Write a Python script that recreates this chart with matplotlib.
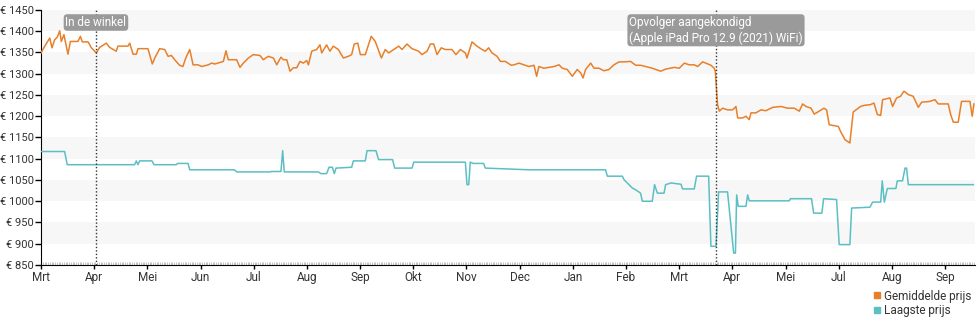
import matplotlib.pyplot as plt
import numpy as np
from matplotlib.lines import Line2D
from matplotlib.transforms import blended_transform_factory

# Average price (days since start, euro)
avg_days = [0, 2, 5, 6.3, 7.8, 9.3, 10.7, 11.6, 13.1, 15.4,
            16.8, 21.1, 22.5, 23.6, 26.9, 28.8, 31.6, 33.5, 37.3, 39.2,
            43, 44, 49.7, 50.7, 52.6, 54.5, 55.4, 61.1, 63.6, 65,
            67.8, 70.7, 72.6, 74.5, 76.4, 79.2, 81.1, 82.7, 85, 86.9, 89.7,
            91.8, 95.6, 97.5, 99.4, 104.2, 105.7, 107, 111.8, 113.7, 115.6,
            118.5, 121.3, 125.1, 127, 129.9, 132.8, 134.7, 137.1, 138.5, 140.4,
            142.3, 144.2, 146.1, 148, 149.9, 151.8, 152.8, 154.7, 157.5, 159.4,
            160.4, 163.2, 165.1, 167, 169.9, 172.8, 175.6, 177.5, 179,
            181, 182.5, 185.3, 188.7, 191, 194.5, 196.7, 198.7, 201.5, 204.4,
            206.3, 209.1, 212, 215.8, 217.7, 220.6, 222.5, 224.4, 226.3, 228.7,
            231, 234.8, 237.1, 239.6, 242.5, 243.4, 246.3, 249.1, 252, 253.9,
            255.8, 257.7, 260.6, 262.5, 265.3, 268.7,
            270.3, 273.1, 278.8, 281.7, 283.2, 284.5, 287.4, 290.3, 293.1, 296,
            297.9, 300.7, 303.6, 306.4, 308.4, 309.7, 311.2, 314.1, 316, 318.8,
            321.7, 324.5, 327.4, 330.3, 333.1, 336.9, 339.8, 342.6, 345.5, 349.3,
            354.1, 357,
            361.9, 364.7, 367.6, 370.4, 373.3, 375.2, 378.1, 382.8, 384.7, 385.3,
            386.6, 387.6, 389.5, 392.3, 395.2, 397.1, 398.1, 400.9, 402.8, 404.7,
            405.7, 408.5, 411.4, 414.2, 418.1, 422.8, 426.6, 430.4, 433.3, 435.2,
            437.1, 440, 441.9, 444.7, 447.4, 448.9,
            450.4, 455.6, 456.9, 459.4, 462.2, 464.1, 468.3, 470.8, 473.7, 476,
            477.9, 479.8, 480.9, 485.1, 486.6, 488.9, 491.2, 493.1, 495.6, 498.4,
            501.3, 503.2, 508, 510.8, 512.7, 518.4, 519.8, 521.3, 524.1, 526,
            530.8, 532.1, 533.1]
avg_prices = [1349, 1364, 1384, 1361, 1380, 1386, 1401, 1376, 1392, 1346,
              1376, 1376, 1388, 1375, 1375, 1361, 1349, 1362, 1372, 1362,
              1353, 1365, 1365, 1372, 1346, 1346, 1359, 1359, 1323, 1337,
              1359, 1357, 1341, 1343, 1333, 1320, 1317, 1337, 1357, 1321, 1321,
              1317, 1321, 1325, 1323, 1329, 1354, 1333, 1333, 1315, 1325,
              1337, 1345, 1343, 1333, 1341, 1337, 1321, 1339, 1333, 1333,
              1306, 1314, 1314, 1329, 1325, 1331, 1321, 1353, 1357, 1368,
              1349, 1368, 1353, 1365, 1357, 1337, 1341, 1345, 1370,
              1372, 1345, 1345, 1388, 1376, 1337, 1357, 1349, 1357, 1365,
              1357, 1370, 1359, 1353, 1345, 1353, 1370, 1370, 1345, 1361,
              1357, 1357, 1345, 1357, 1349, 1337, 1375, 1365, 1357, 1353,
              1361, 1349, 1341, 1329, 1329, 1320,
              1321, 1325, 1317, 1320, 1294, 1317, 1313, 1315, 1317, 1321,
              1313, 1310, 1294, 1310, 1302, 1290, 1310, 1325, 1313, 1313,
              1307, 1310, 1321, 1328, 1328, 1329, 1320, 1320, 1317, 1313,
              1306, 1311,
              1315, 1313, 1325, 1321, 1321, 1317, 1328, 1320, 1313, 1306,
              1227, 1212, 1219, 1215, 1215, 1223, 1196, 1196, 1200, 1192,
              1208, 1208, 1215, 1213, 1221, 1223, 1219, 1219, 1212, 1229,
              1223, 1219, 1205, 1212, 1219, 1215,
              1180, 1176, 1164, 1145, 1137, 1210, 1223, 1226, 1227, 1231,
              1204, 1202, 1239, 1243, 1223, 1243, 1247, 1259, 1251, 1247,
              1221, 1233, 1235, 1239, 1229, 1229, 1204, 1186, 1186, 1235,
              1235, 1200, 1229]

# Lowest price
low_days = [0, 13.5, 15, 53.5, 54.5, 55.4, 56.4, 63.4, 64.6, 77.3, 78, 84, 85,
            110.5, 111.8, 130.9, 131.5, 137.1, 138.1, 139, 158.5, 160, 163.2, 164.6, 166.5, 167.6, 168.6, 177.5, 178.5,
            185.3, 186.3, 191.4, 192.9, 200.9, 202.1, 212, 213, 242.5, 243.4, 244.4, 245.3, 247, 252.9, 253.9,
            278.8, 322.6, 323.6, 332.2, 333.1, 337.9, 339.8, 342.6, 343.6, 349.3, 350.6, 352.2, 356, 356.9,
            360, 365.7, 366.6, 373.3, 374.6, 381.5, 382.8, 385.7, 387.2, 392.3, 395.8, 396.8, 397.5, 398.4,
            402.8, 403.8, 404.7, 427.6, 428.2, 440.3, 441.5, 446.2, 447.2,
            454.6, 456.1, 462.2, 463.2, 473.7, 475.2, 479.8, 480.7, 481.9, 483.6, 488.5, 489.3, 492.3,
            493.7, 494.6, 495.6, 532.7]
low_prices = [1117, 1117, 1086, 1086, 1095, 1086, 1095, 1095, 1086, 1086, 1089, 1089, 1074,
              1074, 1069, 1069, 1070, 1070, 1119, 1069, 1069, 1065, 1065, 1080, 1080, 1065, 1078, 1080, 1095,
              1095, 1119, 1119, 1098, 1098, 1078, 1078, 1092, 1092, 1039, 1039, 1092, 1089, 1089, 1078,
              1074, 1074, 1059, 1059, 1051, 1031, 1027, 1019, 1000, 1000, 1039, 1019, 1019, 1039,
              1043, 1040, 1029, 1029, 1059, 1059, 894, 894, 1022, 1022, 878, 878, 1015, 988,
              988, 1015, 1001, 1001, 1006, 1006, 972, 972, 1006,
              1004, 898, 898, 984, 986, 998, 998, 1048, 998, 1030, 1030, 1048, 1048,
              1078, 1078, 1039, 1039]

month_labels = ["Mrt", "Apr", "Mei", "Jun", "Jul", "Aug", "Sep", "Okt", "Nov",
                "Dec", "Jan", "Feb", "Mrt", "Apr", "Mei", "Jul", "Aug", "Sep"]
y_ticks = [850, 900, 950, 1000, 1050, 1100, 1150, 1200, 1250, 1300, 1350, 1400, 1450]

events = [(31.4, "In de winkel"),
          (385.7, "Opvolger aangekondigd\n(Apple iPad Pro 12.9 (2021) WiFi)")]

ORANGE = "#e8802a"
TEAL = "#5bbfc4"
TEXT = "#333333"

plt.rcParams['font.family'] = ['Roboto', 'DejaVu Sans']

fig = plt.figure(figsize=(9.8, 3.25), dpi=100)
ax = fig.add_axes([41 / 980, 1 - 265 / 325, 934 / 980, 255 / 325])

# Striped background
for lo in range(900, 1450, 100):
    ax.axhspan(lo, lo + 50, color="#f7f7f7", zorder=0, lw=0)

ax.plot(avg_days, avg_prices, color=ORANGE, lw=1.1, zorder=3)
ax.plot(low_days, low_prices, color=TEAL, lw=1.1, zorder=3)

trans = blended_transform_factory(ax.transData, ax.transAxes)
for day, label in events:
    ax.axvline(day, color="#333333", ls=(0, (1, 1.5)), lw=1, zorder=4)
    ax.text(day, 1 - 6 / 255, label, transform=trans, ha="center", va="top",
            multialignment="left", color="white", fontsize=8.5, zorder=5,
            bbox=dict(boxstyle="round,pad=0.15,rounding_size=0.3",
                      fc="#9a9a9a", ec="none"))

ax.set_xlim(0, 533.7)
ax.set_ylim(850, 1450)
ax.set_yticks(y_ticks)
ax.set_yticklabels([f"€ {v}" for v in y_ticks])
tick_pos = np.arange(len(month_labels)) * 30.39
ax.set_xticks(tick_pos)
ax.set_xticklabels(month_labels)
ax.set_xticks(np.arange(0, 534, 1.0), minor=True)

for side in ["top", "right"]:
    ax.spines[side].set_visible(False)
ax.spines["left"].set_color("black")
ax.spines["bottom"].set_color("black")
ax.tick_params(axis="y", length=4, width=1, pad=1, labelsize=8, labelcolor=TEXT)
ax.tick_params(axis="x", which="major", length=3, width=1, pad=1,
               labelsize=8.5, labelcolor=TEXT)
ax.tick_params(axis="x", which="minor", direction="in", length=2, width=0.5,
               color="#aaaaaa")

handles = [Line2D([], [], ls="none", marker="s", ms=5, color=ORANGE),
           Line2D([], [], ls="none", marker="s", ms=5, color=TEAL)]
fig.legend(handles, ["Gemiddelde prijs", "Laagste prijs"], loc="lower right",
           bbox_to_anchor=(1.0, 0.0), frameon=False, fontsize=8.5,
           handlelength=0.6, handletextpad=0.3, labelspacing=0.1,
           borderaxespad=0.3, labelcolor=TEXT)

fig.savefig("out.png", dpi=100)
